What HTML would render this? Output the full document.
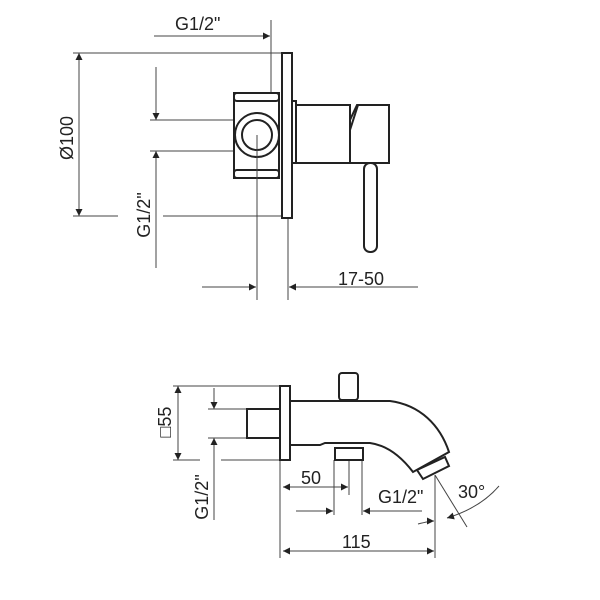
<!DOCTYPE html><html><head><style>body{margin:0;background:#fff}svg{display:block}text{font-family:"Liberation Sans",sans-serif;font-size:18px;fill:#222}</style></head><body>
<svg width="600" height="600" viewBox="0 0 600 600" xmlns="http://www.w3.org/2000/svg">
<defs><marker id="a" viewBox="0 0 10 10" refX="10" refY="5" markerWidth="9" markerHeight="7" orient="auto-start-reverse" markerUnits="userSpaceOnUse"><path d="M0,0L10,5L0,10z" fill="#222"/></marker></defs>
<g stroke="#444" stroke-width="1" fill="none">
<line x1="154" y1="36" x2="270" y2="36" marker-end="url(#a)"/>
<line x1="271" y1="20" x2="271" y2="93"/>
<line x1="73" y1="53" x2="282" y2="53"/>
<line x1="73" y1="216" x2="118" y2="216"/><line x1="163" y1="216" x2="282" y2="216"/>
<line x1="79" y1="53" x2="79" y2="216" marker-start="url(#a)" marker-end="url(#a)"/>
<line x1="156" y1="67" x2="156" y2="120" marker-end="url(#a)"/>
<line x1="156" y1="268" x2="156" y2="151" marker-end="url(#a)"/>
<line x1="150" y1="120" x2="234" y2="120"/><line x1="150" y1="151" x2="234" y2="151"/>
<line x1="202" y1="287" x2="256" y2="287" marker-end="url(#a)"/>
<line x1="418" y1="287" x2="289" y2="287" marker-end="url(#a)"/>
<line x1="257" y1="135" x2="257" y2="300"/><line x1="288" y1="218" x2="288" y2="300"/>
</g>
<g stroke="#222" stroke-width="2" fill="#fff">
<rect x="282" y="53" width="10" height="165"/>
<rect x="234" y="93" width="45" height="85"/>
<rect x="234" y="93" width="45" height="8" rx="3"/>
<rect x="234" y="170" width="45" height="8" rx="3"/>
<rect x="292" y="101" width="4" height="62"/>
<rect x="296" y="105" width="54" height="58"/>
<path d="M350,163 V120 L357,105 H389 V163 Z"/>
<path d="M358,105 L350,130"/>
<rect x="364" y="163" width="13" height="89" rx="6"/>
<circle cx="257" cy="135" r="22"/><circle cx="257" cy="135" r="15"/>
</g>
<line x1="257" y1="135" x2="257" y2="300" stroke="#444"/>
<text x="175" y="30">G1/2"</text>
<text x="338" y="285">17-50</text>
<text transform="translate(73,138) rotate(-90)" text-anchor="middle">Ø100</text>
<text transform="translate(150,215) rotate(-90)" text-anchor="middle">G1/2"</text>
<g stroke="#444" stroke-width="1" fill="none">
<line x1="173" y1="386" x2="280" y2="386"/>
<line x1="173" y1="460" x2="200" y2="460"/><line x1="221" y1="460" x2="280" y2="460"/>
<line x1="178" y1="386" x2="178" y2="460" marker-start="url(#a)" marker-end="url(#a)"/>
<line x1="214" y1="388" x2="214" y2="409" marker-end="url(#a)"/>
<line x1="214" y1="520" x2="214" y2="438" marker-end="url(#a)"/>
<line x1="208" y1="409" x2="247" y2="409"/><line x1="208" y1="438" x2="247" y2="438"/>
<line x1="283" y1="487" x2="348" y2="487" marker-start="url(#a)" marker-end="url(#a)"/>
<line x1="349" y1="460" x2="349" y2="495"/>
<line x1="296" y1="511" x2="333" y2="511" marker-end="url(#a)"/>
<line x1="422" y1="511" x2="363" y2="511" marker-end="url(#a)"/>
<line x1="334" y1="460" x2="334" y2="515"/><line x1="362" y1="460" x2="362" y2="515"/>
<line x1="283" y1="551" x2="434" y2="551" marker-start="url(#a)" marker-end="url(#a)"/>
<line x1="280" y1="460" x2="280" y2="558"/><line x1="435" y1="475" x2="435" y2="558"/>
<line x1="435" y1="475" x2="467" y2="527"/>
<path d="M418,524 Q430,521 434,521" marker-end="url(#a)"/>
<path d="M499,486 Q480,508 447,518" marker-end="url(#a)"/>
</g>
<g stroke="#222" stroke-width="2" fill="#fff">
<rect x="339" y="373" width="19" height="27" rx="3"/>
<path d="M290,401 H390 C420,405 440,425 449,452 L413,472 C400,455 385,445 370,443 H325 L320,445 H290 Z"/>
<rect x="247" y="409" width="33" height="29"/>
<rect x="335" y="448" width="28" height="12"/>
<rect x="280" y="386" width="10" height="74"/>
<path d="M417,470 L423,479 L449,466 L445,457 Z"/>
</g>
<text x="301" y="484">50</text>
<text x="378" y="503">G1/2"</text>
<text x="342" y="548">115</text>
<text x="458" y="498">30°</text>
<text transform="translate(171,422) rotate(-90)" text-anchor="middle">□55</text>
<text transform="translate(208,497) rotate(-90)" text-anchor="middle">G1/2"</text>
</svg></body></html>
